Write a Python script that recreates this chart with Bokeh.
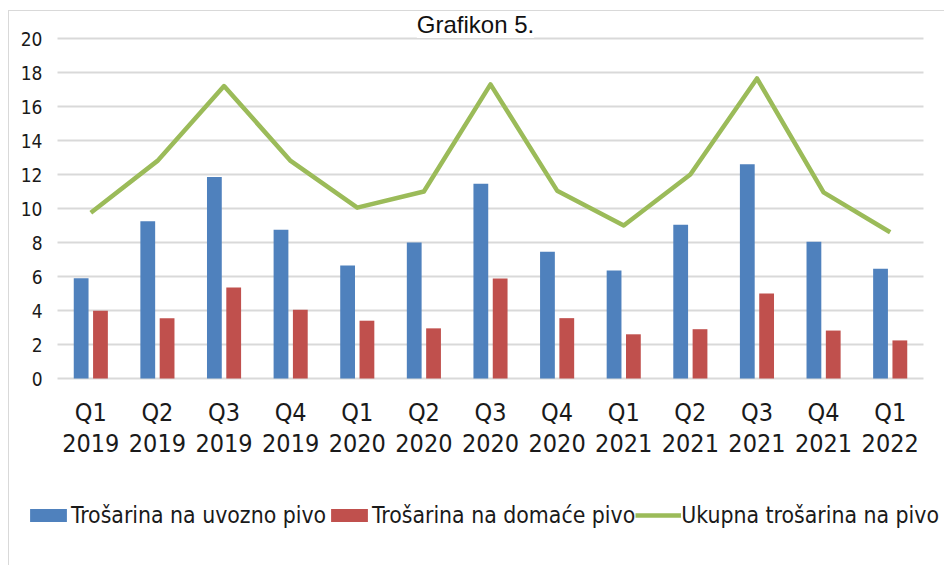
from bokeh.plotting import figure
from bokeh.models import (ColumnDataSource, Range1d, Legend, LegendItem, Label, FixedTicker)
from bokeh.transform import dodge
from bokeh.embed import file_html
from bokeh.resources import INLINE

# ---- data ----
quarters = ["Q1", "Q2", "Q3", "Q4", "Q1", "Q2", "Q3", "Q4", "Q1", "Q2", "Q3", "Q4", "Q1"]
years = ["2019", "2019", "2019", "2019", "2020", "2020", "2020", "2020",
         "2021", "2021", "2021", "2021", "2022"]
uvozno = [5.9, 9.25, 11.85, 8.75, 6.65, 8.0, 11.45, 7.45, 6.35, 9.05, 12.6, 8.05, 6.45]
domace = [3.98, 3.55, 5.35, 4.05, 3.4, 2.95, 5.88, 3.55, 2.6, 2.9, 5.0, 2.82, 2.24]
ukupno = [9.75, 12.8, 17.2, 12.8, 10.05, 11.0, 17.3, 11.05, 9.0, 12.0, 17.65, 10.95, 8.6]
y_ticks = [0, 2, 4, 6, 8, 10, 12, 14, 16, 18, 20]
series_names = ["Trošarina na uvozno pivo", "Trošarina na domaće pivo", "Ukupna trošarina na pivo"]
title_text = "Grafikon 5."

n = len(quarters)
idx = list(range(n))
cat_labels = {i: q + "\n" + y for i, q, y in zip(idx, quarters, years)}

BLUE = "#4F81BD"
RED = "#C0504D"
GREEN = "#9BBB59"
GRID = "#d9d9d9"
TEXT = "#1a1a1a"
NARROW = "'DejaVu Sans Condensed', 'Liberation Sans', sans-serif"

# ---- layout (pixels) ----
W, H = 944, 565
PLOT_L, PLOT_R, PLOT_T, PLOT_B = 57, 923, 38, 378
px_cat = (PLOT_R - PLOT_L) / n
px_unit = (PLOT_B - PLOT_T) / 20.0
x0 = -0.5 - PLOT_L / px_cat
x1 = n - 0.5 + (W - PLOT_R) / px_cat
y0 = -(H - PLOT_B) / px_unit
y1 = 20 + PLOT_T / px_unit

src = ColumnDataSource(dict(idx=idx, uvozno=uvozno, domace=domace, ukupno=ukupno))
gsrc = ColumnDataSource(dict(y=y_ticks, xs=[-0.5] * len(y_ticks), xe=[n - 0.5] * len(y_ticks)))

p = figure(width=W, height=H, output_backend="svg", toolbar_location=None,
           x_range=Range1d(x0, x1), y_range=Range1d(y0, y1),
           min_border_left=0, min_border_right=0, min_border_top=0, min_border_bottom=0)
p.outline_line_color = None
p.background_fill_alpha = 0
p.border_fill_alpha = 0
p.styles = {
    "background": ("linear-gradient(#d9d9d9, #d9d9d9) 8px 10px / 1px 100% no-repeat, "
                   "linear-gradient(#d9d9d9, #d9d9d9) 8px 10px / 100% 1px no-repeat, white")
}
p.xgrid.visible = False
p.ygrid.visible = False

# gridlines limited to the plot area
p.segment(x0="xs", x1="xe", y0="y", y1="y", source=gsrc, line_color=GRID, line_width=2)

r1 = p.vbar(x=dodge("idx", -0.145), top="uvozno", width=0.222,
            source=src, fill_color=BLUE, line_color=None)
r2 = p.vbar(x=dodge("idx", 0.145), top="domace", width=0.222,
            source=src, fill_color=RED, line_color=None)
r3 = p.line(x="idx", y="ukupno", source=src, line_color=GREEN, line_width=4.5,
            line_join="round")

# y axis at left edge of the plot area
p.yaxis.fixed_location = -0.5
p.yaxis.ticker = FixedTicker(ticks=y_ticks)
p.yaxis.axis_line_color = None
p.yaxis.major_tick_line_color = None
p.yaxis.minor_tick_line_color = None
p.yaxis.major_tick_out = 0
p.yaxis.major_tick_in = 0
p.yaxis.major_label_text_font = NARROW
p.yaxis.major_label_text_font_size = "19px"
p.yaxis.major_label_text_color = TEXT
p.yaxis.major_label_standoff = 15

# x axis at y = 0
p.xaxis.fixed_location = 0
p.xaxis.ticker = FixedTicker(ticks=idx)
p.xaxis.major_label_overrides = cat_labels
p.xaxis.axis_line_color = None
p.xaxis.major_tick_line_color = None
p.xaxis.minor_tick_line_color = None
p.xaxis.major_tick_out = 0
p.xaxis.major_tick_in = 0
p.xaxis.major_label_text_font = NARROW
p.xaxis.major_label_text_font_size = "25px"
p.xaxis.major_label_text_line_height = 1.08
p.xaxis.major_label_text_color = TEXT
p.xaxis.major_label_standoff = 19
p.xaxis.major_label_orientation = "horizontal"

# legend
legend = Legend(items=[LegendItem(label=series_names[0], renderers=[r1]),
                       LegendItem(label=series_names[1], renderers=[r2]),
                       LegendItem(label=series_names[2], renderers=[r3])],
                orientation="horizontal", location=(25, 37),
                padding=0, margin=0, spacing=0, label_standoff=0,
                glyph_width=46, glyph_height=16,
                border_line_color=None, background_fill_alpha=0,
                label_text_font=NARROW, label_text_font_size="22.8px",
                label_text_color=TEXT)
p.add_layout(legend, "center")

# title
title = Label(x=475, y=H - 24, x_units="screen", y_units="screen", text=title_text,
              text_align="center", text_baseline="alphabetic",
              text_font="'Liberation Sans', Arial, sans-serif", text_font_size="24px",
              text_color="#111111", background_fill_color="white")
p.add_layout(title)

open("out.html", "w").write(file_html(p, INLINE))
